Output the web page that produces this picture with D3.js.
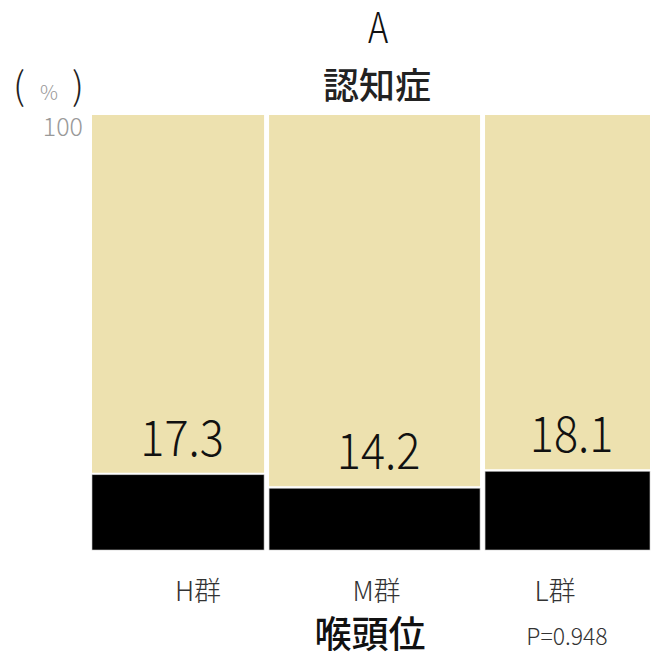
<!DOCTYPE html>
<html>
<head>
<meta charset="utf-8">
<script src="https://cdn.jsdelivr.net/npm/d3@7"></script>
<style>
  body { margin: 0; background: #fff; }
  text { font-family: "Noto Sans CJK JP", "Noto Sans", sans-serif; }
</style>
</head>
<body>
<div id="wrapper"></div>
<script>
// groups (x axis = 喉頭位), bar widths are group shares (mosaic)
const groups = ["H群", "M群", "L群"]
const groupShare = [31.4, 38.5, 30.1]
const dementiaPct = [17.3, 14.2, 18.1]
const yTicks = [100]
const pValue = "P=0.948"

const width = 651, height = 656
const margin = { left: 92, right: 1, top: 115, bottom: 106 }
const gap = 5

const svg = d3.select("#wrapper")
  .append("svg")
    .attr("width", width)
    .attr("height", height)

const innerW = width - margin.left - margin.right
const usable = innerW - gap * (groups.length - 1)

// cumulative share -> x position
const x = d3.scaleLinear()
  .domain([0, d3.sum(groupShare)])
  .range([0, usable])

const y = d3.scaleLinear()
  .domain([0, 100])
  .range([height - margin.bottom, margin.top])

// group labels sit on their own evenly spaced positions
const xLabel = d3.scalePoint()
  .domain(groups)
  .range([198, 555])

let acc = 0
const cells = groups.map((g, i) => {
  const x0 = margin.left + x(acc) + gap * i
  const x1 = margin.left + x(acc + groupShare[i]) + gap * i
  acc += groupShare[i]
  return { g, x0, x1, v: dementiaPct[i] }
})

const bounds = svg.append("g")

// beige top part (not dementia)
bounds.selectAll(".top")
  .data(cells)
  .join("rect")
    .attr("x", d => d.x0)
    .attr("width", d => d.x1 - d.x0)
    .attr("y", y(100))
    .attr("height", d => y(d.v) - y(100) - 2)
    .attr("fill", "#ede1af")

// black bottom part (dementia)
bounds.selectAll(".bottom")
  .data(cells)
  .join("rect")
    .attr("x", d => d.x0)
    .attr("width", d => d.x1 - d.x0)
    .attr("y", d => y(d.v))
    .attr("height", d => y(0) - y(d.v))
    .attr("fill", "#000")
    .attr("stroke", "#c8c8c8")
    .attr("stroke-width", 0.6)

// value labels
bounds.selectAll(".val")
  .data(cells)
  .join("text")
    .attr("transform", d => `translate(${(d.x0 + d.x1) / 2 + 4},${y(d.v) - 19}) scale(0.9,1)`)
    .attr("text-anchor", "middle")
    .attr("font-size", 50)
    .attr("font-weight", 300)
    .attr("fill", "#111")
    .text(d => d.v.toFixed(1))

// group labels
bounds.selectAll(".grp")
  .data(cells)
  .join("text")
    .attr("x", d => xLabel(d.g))
    .attr("y", 601)
    .attr("text-anchor", "middle")
    .attr("font-size", 27)
    .attr("font-weight", 300)
    .attr("fill", "#333")
    .text(d => d.g)

// y tick
svg.selectAll(".ytick")
  .data(yTicks)
  .join("text")
    .attr("x", 83)
    .attr("y", d => y(d) + 21)
    .attr("text-anchor", "end")
    .attr("font-size", 25)
    .attr("font-weight", 300)
    .attr("fill", "#999")
    .text(d => d)

// unit
svg.append("text")
  .attr("x", 13).attr("y", 100)
  .attr("font-size", 38).attr("font-weight", 300).attr("fill", "#222")
  .text("(")
svg.append("text")
  .attr("x", 49).attr("y", 100)
  .attr("text-anchor", "middle")
  .attr("font-size", 20).attr("font-weight", 300).attr("fill", "#999")
  .text("%")
svg.append("text")
  .attr("x", 72).attr("y", 100)
  .attr("font-size", 38).attr("font-weight", 300).attr("fill", "#222")
  .text(")")

// titles
svg.append("text")
  .attr("transform", "translate(378,43) scale(0.8,1)")
  .attr("text-anchor", "middle")
  .attr("font-size", 43).attr("font-weight", 300).attr("fill", "#111")
  .text("A")
svg.append("text")
  .attr("x", 377).attr("y", 99)
  .attr("text-anchor", "middle")
  .attr("font-size", 36).attr("font-weight", 500).attr("fill", "#222")
  .text("認知症")
svg.append("text")
  .attr("x", 370).attr("y", 648)
  .attr("text-anchor", "middle")
  .attr("font-size", 37).attr("font-weight", 500).attr("fill", "#111")
  .text("喉頭位")
svg.append("text")
  .attr("x", 567).attr("y", 645)
  .attr("text-anchor", "middle")
  .attr("font-size", 23).attr("font-weight", 300).attr("fill", "#333")
  .text(pValue)
</script>
</body>
</html>
